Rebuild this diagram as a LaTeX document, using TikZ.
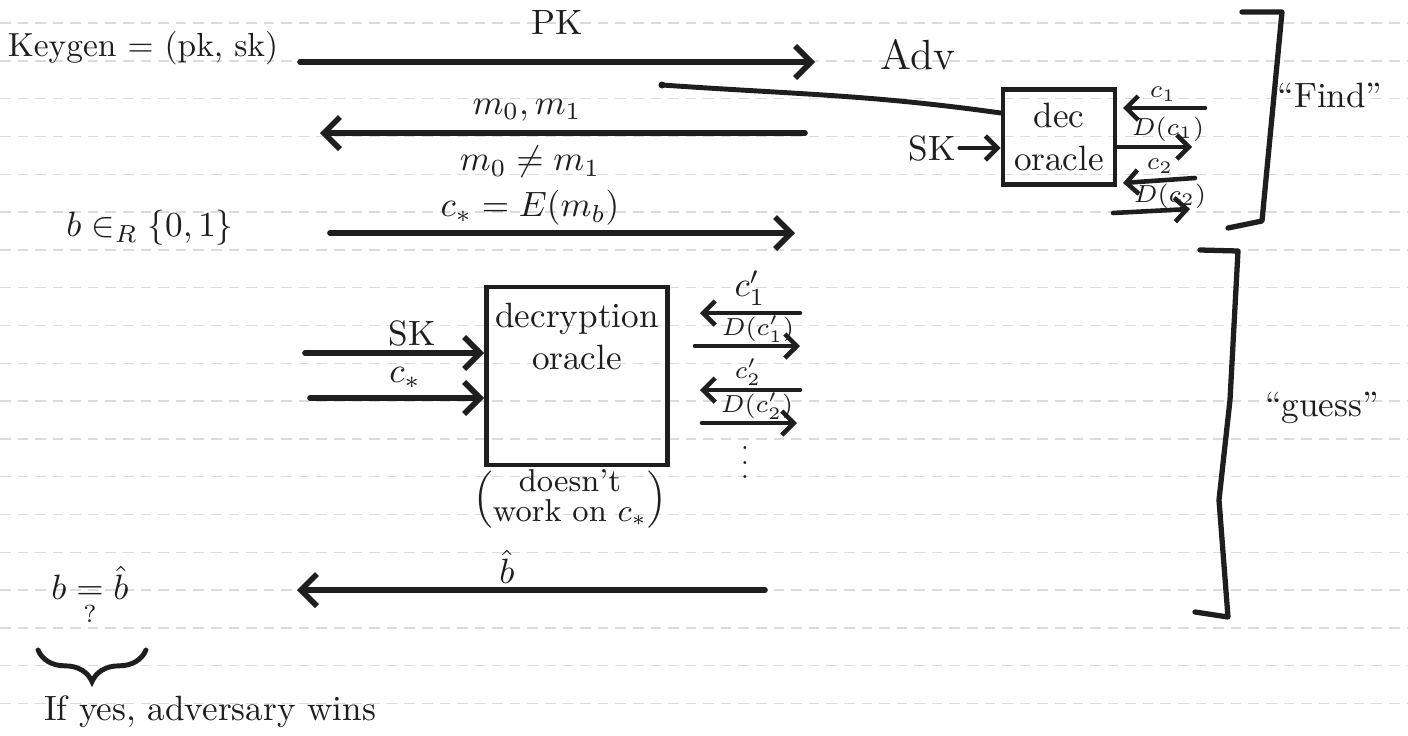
\documentclass[tikz,border=0pt]{standalone}
\usepackage{amsmath}
\usetikzlibrary{arrows.meta,decorations.pathreplacing,positioning}
\definecolor{Ink}{HTML}{1E1E1E}
\definecolor{Ruling}{HTML}{DCDCDC}

\tikzset{
  msg/.style={draw=Ink, line width=1.6pt, line cap=round,
    -{Straight Barb[length=1.6mm,width=3.2mm]}},
  thinmsg/.style={draw=Ink, line width=1.3pt, line cap=round,
    -{Straight Barb[length=1.2mm,width=2.4mm]}},
  wire/.style={draw=Ink, line width=1.4pt, line cap=round},
  bracket/.style={draw=Ink, line width=1.5pt, line cap=round, line join=round},
  oraclebox/.style={draw=Ink, line width=1.3pt, inner sep=0pt},
  lbl/.style={text=Ink, inner sep=1pt, font=\fontsize{10}{12}\selectfont},
  smalllbl/.style={lbl, font=\fontsize{7.5}{9}\selectfont},
  ruling/.style={draw=Ruling, line width=0.4pt, dash pattern=on 3pt off 2pt}
}

\begin{document}
\begin{tikzpicture}[x=0.01cm,y=-0.01cm]

  \useasboundingbox (0,0) rectangle (1408,736);
  \fill[white] (0,0) rectangle (1408,736);

  % notebook ruling
  \foreach \y in {23,60.8,...,710}
    \draw[ruling] (0,\y) -- (1408,\y);

  % find phase
  \node[lbl, font=\fontsize{9.5}{11}\selectfont] (keygen) at (143,48) {Keygen = (pk, sk)};
  \node[lbl, font=\fontsize{12}{14}\selectfont] (adv) at (918,55) {Adv};

  \coordinate (pkfrom) at (300,62);
  \coordinate (pkto) at (815,62);
  \draw[msg] (pkfrom) -- (pkto)
    node[lbl, midway, above=6pt] (pklabel) {PK};

  \coordinate (mfrom) at (805,133);
  \coordinate (mto) at (320,133);
  \draw[msg] (mfrom) -- (mto);
  \node[lbl] (mpair) at (527,110) {$m_0, m_1$};
  \node[lbl] (mneq) at (530,162) {$m_0 \neq m_1$};

  \node[lbl] (bsample) at (150,228) {$b \in_R \{0,1\}$};
  \node[lbl] (cstar) at (530,208) {$c_* = E(m_b)$};
  \coordinate (cfrom) at (330,233);
  \coordinate (cto) at (795,233);
  \draw[msg] (cfrom) -- (cto);

  % small oracle
  \node[oraclebox, minimum width=1.12cm, minimum height=0.95cm,
    align=center, lbl] (decoracle) at (1059,137) {dec\\oracle};
  \node[lbl] (sksmall) at (932,148) {SK};
  \draw[thinmsg] (sksmall.east) -- (decoracle.west |- sksmall.east);

  \coordinate (advtap) at (662,85);
  \draw[wire] (decoracle.west |- 0,113) to[out=172,in=-4] (advtap);
  \fill[Ink] (advtap) circle (3.5);

  \coordinate (qa) at (1205,108);
  \coordinate (qb) at (1123,108);
  \draw[thinmsg] (qa) -- (qb);
  \node[smalllbl] (qalbl) at (1163,94) {$c_1$};
  \coordinate (ra) at (1117,147);
  \coordinate (rb) at (1192,147);
  \draw[thinmsg] (ra) -- (rb);
  \node[smalllbl] (ralbl) at (1168,129) {$D(c_1)$};
  \coordinate (qc) at (1195,178);
  \coordinate (qd) at (1123,183);
  \draw[thinmsg] (qc) -- (qd);
  \node[smalllbl] (qclbl) at (1160,166) {$c_2$};
  \coordinate (rc) at (1113,213);
  \coordinate (rd) at (1190,209);
  \draw[thinmsg] (rc) -- (rd);
  \node[smalllbl] (rclbl) at (1170,196) {$D(c_2)$};

  \draw[bracket] (1242,12) -- (1282,12) -- (1262,221) -- (1228,228);
  \node[lbl] (findlbl) at (1330,95) {``Find''};

  % guess phase
  \node[oraclebox, minimum width=1.81cm, minimum height=1.78cm]
    (bigoracle) at (577,376) {};
  \node[lbl, anchor=north, align=center, inner sep=0pt]
    (bigoracletxt) at ([yshift=-5pt]bigoracle.north) {decryption\\oracle};

  \coordinate (skin) at (305,353);
  \draw[msg] (skin) -- (bigoracle.west |- skin);
  \node[lbl] (skbig) at (412,333) {SK};
  \coordinate (cin) at (310,398);
  \draw[msg] (cin) -- (bigoracle.west |- cin);
  \node[lbl] (cbig) at (405,378) {$c_*$};

  \coordinate (sa) at (800,313);
  \coordinate (sb) at (700,313);
  \draw[thinmsg] (sa) -- (sb);
  \node[lbl] (salbl) at (750,288) {$c_1'$};
  \coordinate (ta) at (695,346);
  \coordinate (tb) at (800,346);
  \draw[thinmsg] (ta) -- (tb);
  \node[smalllbl] (talbl) at (758,329) {$D(c_1')$};
  \coordinate (sc) at (800,390);
  \coordinate (sd) at (700,390);
  \draw[thinmsg] (sc) -- (sd);
  \node[smalllbl] (sclbl) at (748,372) {$c_2'$};
  \coordinate (tc) at (702,423);
  \coordinate (td) at (797,423);
  \draw[thinmsg] (tc) -- (td);
  \node[smalllbl] (tclbl) at (757,406) {$D(c_2')$};
  \node[smalllbl, inner sep=0pt] (moredots) at (745,452) {$\vdots$};

  \node[lbl, font=\fontsize{9}{10}\selectfont, inner sep=0pt] (notonc) at (570,500)
    {\renewcommand{\arraystretch}{0.85}%
     $\left(\begin{array}{@{}c@{}}\text{doesn't}\\ \text{work on } c_*\end{array}\right)$};

  \coordinate (bhatfrom) at (765,590);
  \coordinate (bhatto) at (297,590);
  \draw[msg] (bhatfrom) -- (bhatto);
  \node[lbl] (bhatlbl) at (507,567) {$\hat{b}$};

  \draw[bracket] (1200,250) -- (1238,251) -- (1230,400) -- (1219,500)
    -- (1228,617) -- (1195,612);
  \node[lbl] (guesslbl) at (1322,408) {``guess''};

  % final check
  \node[lbl] (bcheck) at (90,596) {$b \underset{?}{=} \hat{b}$};
  \draw[wire, decorate, decoration={brace, mirror, amplitude=9}]
    (38,650) -- (146,650);
  \node[lbl] (winslbl) at (210,712) {If yes, adversary wins};

\end{tikzpicture}
\end{document}
